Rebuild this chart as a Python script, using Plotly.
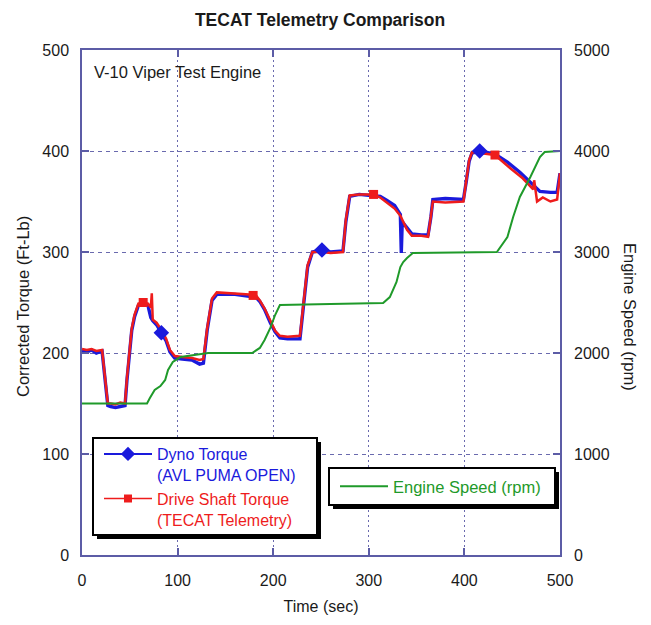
import plotly.graph_objects as go

# ---------------- data ----------------
dyno_t = [0, 5, 10, 15, 21, 24, 27, 30, 35, 40, 45, 47, 50, 52, 55, 59, 64, 69, 72, 74, 78, 83, 88, 92, 97,
          105, 115, 123, 127, 131, 136, 141, 160, 175, 182, 186, 191, 197, 202, 207, 215, 228, 232, 236, 241,
          251, 260, 273, 276, 280, 290, 300, 312, 319, 327, 333, 334, 335, 340, 345, 355, 362, 365, 367, 380,
          399, 402, 405, 408, 416, 432, 445, 458, 469, 479, 490, 497, 500]
dyno_torque = [202, 201, 203, 200, 202, 175, 148, 147, 146, 147, 148, 173, 206, 222, 236, 247, 248, 247, 235, 232,
               228, 220, 212, 201, 195, 194, 193, 189, 190, 223, 252, 258, 258, 256, 255, 251, 243, 230, 221, 215,
               214, 214, 250, 285, 300, 302, 300, 301, 330, 355, 357, 356, 355, 351, 346, 337, 299, 330, 324, 318,
               317, 317, 335, 352, 353, 352, 370, 390, 398, 400, 397, 389, 379, 369, 360, 359, 359, 378]

shaft_t = [0, 5, 10, 15, 21, 24, 27, 30, 35, 40, 45, 47, 50, 52, 55, 59, 64, 69, 72, 73, 74, 78, 83, 88, 92, 97,
           105, 115, 123, 127, 131, 136, 141, 160, 175, 182, 186, 191, 197, 202, 207, 215, 228, 232, 236, 241,
           251, 260, 273, 276, 280, 290, 305, 312, 319, 327, 333, 340, 345, 355, 362, 365, 367, 380, 399, 402,
           405, 408, 416, 432, 448, 461, 472, 473, 476, 482, 490, 497, 500]
shaft_torque = [204, 203, 204, 202, 203, 178, 150, 150, 149, 151, 150, 175, 208, 224, 238, 249, 250, 249, 245, 259,
                233, 230, 223, 214, 203, 197, 196, 195, 193, 194, 225, 254, 260, 259, 258, 257, 252, 244, 231, 222,
                217, 216, 217, 252, 287, 300, 300, 299, 300, 332, 356, 357, 357, 354, 349, 343, 336, 322, 316, 316,
                315, 334, 350, 349, 350, 371, 391, 399, 398, 396, 383, 373, 362, 371, 350, 354, 350, 352, 378]

speed_t = [0, 68, 71, 76, 82, 87, 90, 95, 103, 116, 132, 178, 186, 191, 197, 202, 207, 260, 315, 322, 329, 333,
           336, 340, 346, 434, 445, 451, 458, 469, 479, 484, 500]
speed_rpm = [1500, 1500, 1554, 1634, 1673, 1733, 1832, 1911, 1960, 1980, 2000, 2000, 2050, 2129, 2248, 2376, 2475,
             2485, 2495, 2554, 2703, 2851, 2900, 2940, 2990, 3000, 3149, 3347, 3545, 3743, 3941, 3990, 4000]

dyno_marker_t = [83, 251, 416]
dyno_marker_torque = [220, 302, 400]
shaft_marker_t = [64, 179, 305, 432]
shaft_marker_torque = [250, 257, 357, 396]

x_ticks = [0, 100, 200, 300, 400, 500]
torque_ticks = [0, 100, 200, 300, 400, 500]
speed_ticks = [0, 1000, 2000, 3000, 4000, 5000]

BLUE = "#1a1adc"
RED = "#ee1c1c"
GREEN = "#1f9a2a"
FRAME = "#5c5ca6"
GRID = "#6a6aae"
TEXT = "#1a1a1a"
FONT = "Liberation Sans, Arial, sans-serif"

fig = go.Figure()

# data lines
fig.add_trace(go.Scatter(x=speed_t, y=speed_rpm, yaxis="y2", mode="lines",
                         line=dict(color=GREEN, width=2), showlegend=False, hoverinfo="skip"))
fig.add_trace(go.Scatter(x=dyno_t, y=dyno_torque, mode="lines",
                         line=dict(color=BLUE, width=3.4), showlegend=False))
fig.add_trace(go.Scatter(x=shaft_t, y=shaft_torque, mode="lines",
                         line=dict(color=RED, width=2.5), showlegend=False))
fig.add_trace(go.Scatter(x=dyno_marker_t, y=dyno_marker_torque, mode="markers",
                         marker=dict(symbol="diamond", size=12, color=BLUE), showlegend=False))
fig.add_trace(go.Scatter(x=shaft_marker_t, y=shaft_marker_torque, mode="markers",
                         marker=dict(symbol="square", size=9, color=RED), showlegend=False))

# legend entries
fig.add_trace(go.Scatter(x=[None], y=[None], mode="lines+markers", legend="legend",
                         name=f'<span style="color:{BLUE}">Dyno Torque<br>(AVL PUMA OPEN)</span>',
                         line=dict(color=BLUE, width=2), marker=dict(symbol="diamond", size=11, color=BLUE)))
fig.add_trace(go.Scatter(x=[None], y=[None], mode="lines+markers", legend="legend",
                         name=f'<span style="color:{RED}">Drive Shaft Torque<br>(TECAT Telemetry)</span>',
                         line=dict(color=RED, width=1.5), marker=dict(symbol="square", size=8, color=RED)))
fig.add_trace(go.Scatter(x=[None], y=[None], mode="lines", legend="legend2", yaxis="y2",
                         name=f'<span style="color:{GREEN}">Engine Speed (rpm)</span>',
                         line=dict(color=GREEN, width=2)))

# the page has an 8px body margin: figure is shrunk by it so the plot lands where the reference has it
OFF = 8
PAGE_W, PAGE_H = 651, 625
X0, X1, Y0, Y1 = 82, 560, 50, 555          # plot area in page pixels
W, H = PAGE_W - OFF, PAGE_H - OFF
L, T = X0 - OFF, Y0 - OFF
R, B = PAGE_W - X1, PAGE_H - Y1


def px_x(p):
    return (p - X0) / (X1 - X0)


def px_y(p):
    return (Y1 - p) / (Y1 - Y0)


shapes = []
# legend frames with drop shadows
for (x0, y0, x1, y1) in [(93, 438, 317, 535), (329, 468, 555, 505)]:
    shapes.append(dict(type="rect", xref="paper", yref="paper",
                       x0=px_x(x0 + 4), x1=px_x(x1 + 4), y0=px_y(y0 + 4), y1=px_y(y1 + 4),
                       fillcolor="black", line=dict(width=0), layer="above"))
    shapes.append(dict(type="rect", xref="paper", yref="paper",
                       x0=px_x(x0), x1=px_x(x1), y0=px_y(y0), y1=px_y(y1),
                       fillcolor="white", line=dict(color="black", width=2), layer="above"))

axis_common = dict(showline=True, linecolor=FRAME, linewidth=1.5, mirror="ticks",
                   ticks="inside", ticklen=7, tickcolor=FRAME, tickwidth=1.5,
                   tickfont=dict(family=FONT, size=16, color=TEXT),
                   gridcolor=GRID, gridwidth=1, zeroline=False, automargin=False)

fig.update_layout(
    width=W, height=H,
    margin=dict(l=L, r=R, t=T, b=B, autoexpand=False),
    paper_bgcolor="white", plot_bgcolor="white",
    font=dict(family=FONT, size=16, color=TEXT),
    title=dict(text="<b>TECAT Telemetry Comparison</b>", x=px_x(320) * (X1 - X0) / W + L / W,
               xanchor="center", y=1 - (20 - OFF) / H, yanchor="middle",
               font=dict(family=FONT, size=17.5, color=TEXT)),
    xaxis=dict(range=[0, 500], tickvals=x_ticks, griddash="2px,3px", ticklabelstandoff=10,
               title=dict(text="Time (sec)", standoff=13, font=dict(family=FONT, size=16)),
               **axis_common),
    yaxis=dict(range=[0, 500], tickvals=torque_ticks, griddash="4px,4px", ticklabelstandoff=8,
               **axis_common),
    yaxis2=dict(range=[0, 5000], tickvals=speed_ticks, overlaying="y", side="right",
                showgrid=False, showline=False, ticks="", ticklabelstandoff=13, automargin=False,
                tickfont=dict(family=FONT, size=16, color=TEXT)),
    legend=dict(x=px_x(99), y=px_y(437), xanchor="left", yanchor="top",
                bgcolor="rgba(0,0,0,0)", borderwidth=0,
                font=dict(family=FONT, size=16), valign="top", itemwidth=48,
                tracegroupgap=0, traceorder="normal"),
    legend2=dict(x=px_x(335), y=px_y(469), xanchor="left", yanchor="top",
                 bgcolor="rgba(0,0,0,0)", borderwidth=0,
                 font=dict(family=FONT, size=16.5), itemwidth=48),
    shapes=shapes,
    annotations=[
        dict(text="V-10 Viper Test Engine", xref="paper", yref="paper", x=px_x(92), y=px_y(72),
             xanchor="left", yanchor="middle", showarrow=False, font=dict(family=FONT, size=16.5)),
        dict(text="Corrected Torque (Ft-Lb)", xref="paper", yref="paper", x=px_x(23), y=px_y(307),
             xanchor="center", yanchor="middle", textangle=-90, showarrow=False,
             font=dict(family=FONT, size=16.5)),
        dict(text="Engine Speed (rpm)", xref="paper", yref="paper", x=px_x(630), y=px_y(317),
             xanchor="center", yanchor="middle", textangle=90, showarrow=False,
             font=dict(family=FONT, size=16.5)),
    ],
)

fig.write_html("out.html")
